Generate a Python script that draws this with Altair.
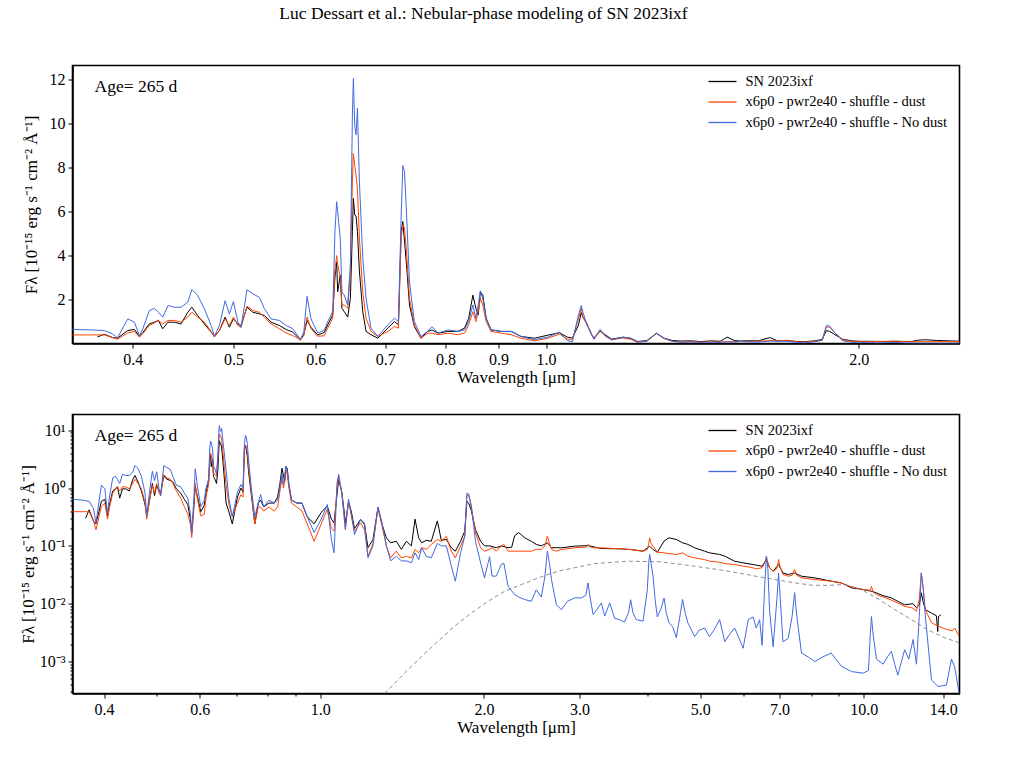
import altair as alt
import pandas as pd

FONT = "Liberation Serif"
SERIES = ["SN 2023ixf", "x6p0 - pwr2e40 - shuffle - dust", "x6p0 - pwr2e40 - shuffle - No dust"]
COLORS = ["#000000", "#ff4500", "#4169e1"]

# ---- observed spectrum (SN 2023ixf) ----
obs_wl = [0.370, 0.3755, 0.3826, 0.3866, 0.3956, 0.4015, 0.4059, 0.409, 0.415, 0.4197, 0.4234, 0.4275,
          0.4325, 0.4386, 0.4452, 0.4519, 0.456, 0.462, 0.4688, 0.4759, 0.4794, 0.4847, 0.4909, 0.4955,
          0.500, 0.505, 0.5085, 0.5153, 0.522, 0.5297, 0.5356, 0.5435, 0.5536, 0.562, 0.5703, 0.5767,
          0.580, 0.5844, 0.5887, 0.5938, 0.6026, 0.6115, 0.6163, 0.6231, 0.6262, 0.6286, 0.630, 0.6336,
          0.636, 0.6393, 0.6442, 0.648, 0.6509, 0.6523, 0.6543, 0.6562, 0.6582, 0.6611, 0.666, 0.6709,
          0.6783, 0.6887, 0.704, 0.7145, 0.7208, 0.7252, 0.7279, 0.7306, 0.7338, 0.7387, 0.7467, 0.7577,
          0.7689, 0.7765, 0.7868, 0.8043, 0.8224, 0.8346, 0.8423, 0.8501, 0.8558, 0.8603, 0.8644, 0.8691,
          0.8755, 0.8851, 0.905, 0.9253, 0.946, 0.9743, 1.004, 1.030, 1.048, 1.06, 1.074, 1.081, 1.085,
          1.093, 1.105, 1.112, 1.127, 1.14, 1.156, 1.186, 1.206, 1.224, 1.25, 1.277, 1.299, 1.323, 1.347,
          1.38, 1.41, 1.44, 1.471, 1.494, 1.517, 1.537, 1.567, 1.6, 1.642, 1.67, 1.706, 1.742, 1.772,
          1.812, 1.844, 1.861, 1.875, 1.896, 1.93, 1.972, 2.005, 2.049, 2.108, 2.153, 2.215, 2.25, 2.278,
          2.318, 2.377, 2.445, 2.497, 2.551, 2.617, 2.663, 2.719, 2.777, 2.938, 3.109, 3.289, 3.554, 3.725,
          3.925, 4.037, 4.095, 4.17, 4.291, 4.38, 4.519, 4.64, 4.745, 4.884, 5.095, 5.2, 5.43, 5.55, 5.786,
          5.997, 6.257, 6.5, 6.62, 6.71, 6.81, 6.97, 7.1, 7.26, 7.46, 7.68, 8.125, 8.71, 9.09, 9.49, 9.97,
          10.33, 10.55, 10.85, 11.24, 11.55, 11.89, 12.32, 12.5, 12.65, 12.76, 12.85, 12.98, 13.32, 13.6,
          13.68, 13.72, 13.86]
obs_flux = [0.30, 0.42, 0.27, 0.24, 0.59, 0.64, 0.33, 0.50, 0.89, 0.97, 1.05, 0.67,
            0.97, 0.97, 0.89, 1.42, 1.65, 1.27, 0.89, 0.52, 0.33, 0.59, 1.20, 0.74,
            1.12, 0.89, 0.82, 1.65, 1.42, 1.35, 1.27, 0.97, 0.82, 0.64, 0.52, 0.29,
            0.17, 0.40, 1.05, 0.74, 0.39, 0.50, 0.85, 1.30, 3.0, 3.7, 2.35, 3.1,
            1.6, 1.45, 1.2, 2.05, 5.1, 6.6, 5.85, 5.8, 5.1, 3.3, 1.45, 0.55,
            0.40, 0.24, 0.70, 1.0, 0.85, 5.1, 5.55, 4.65, 3.6, 1.75, 0.77, 0.24,
            0.55, 0.62, 0.47, 0.55, 0.55, 0.70, 1.15, 2.2, 1.6, 1.3, 2.35, 2.2,
            1.15, 0.62, 0.55, 0.55, 0.32, 0.24, 0.38, 0.49, 0.29, 0.25, 0.82, 1.41, 1.20,
            0.97, 0.44, 0.25, 0.56, 0.40, 0.20, 0.286, 0.235, 0.093, 0.129, 0.46, 0.235, 0.138, 0.113,
            0.12, 0.087, 0.12, 0.10, 0.29, 0.138, 0.113, 0.125, 0.12, 0.27, 0.125, 0.129, 0.093, 0.081,
            0.12, 0.18, 0.59, 0.55, 0.41, 0.19, 0.12, 0.10, 0.10, 0.093, 0.10, 0.093, 0.095, 0.15,
            0.17, 0.138, 0.12, 0.106, 0.10, 0.113, 0.093, 0.093, 0.0925, 0.099, 0.101, 0.09, 0.089, 0.0865,
            0.081, 0.099, 0.0865, 0.0778, 0.121, 0.138, 0.129, 0.113, 0.106, 0.0925, 0.081, 0.0758, 0.071, 0.0664, 0.0543,
            0.0508, 0.0476, 0.0445, 0.058, 0.0417, 0.0365, 0.0476, 0.034, 0.032, 0.034, 0.0299, 0.028, 0.0245, 0.0229, 0.0188, 0.0176,
            0.0164, 0.0154, 0.0138, 0.0126, 0.011, 0.0096, 0.010, 0.0085, 0.0095, 0.0154, 0.011, 0.0079, 0.0069, 0.0062,
            0.0033, 0.006, 0.0064]

# ---- model with dust ----
dust_wl = [0.349, 0.365, 0.3755, 0.3826, 0.3866, 0.3956, 0.4015, 0.4059, 0.409, 0.415, 0.4197, 0.4234,
           0.4275, 0.4325, 0.4386, 0.4452, 0.4519, 0.456, 0.462, 0.4688, 0.4759, 0.4794, 0.4847, 0.4909,
           0.4955, 0.500, 0.505, 0.5085, 0.5153, 0.522, 0.5297, 0.5356, 0.5435, 0.5536, 0.562, 0.5703,
           0.5767, 0.580, 0.5844, 0.5887, 0.5938, 0.6026, 0.6115, 0.6163, 0.6231, 0.6262, 0.6286, 0.630,
           0.6336, 0.636, 0.6393, 0.6442, 0.648, 0.6509, 0.6523, 0.6543, 0.6562, 0.6582, 0.6611, 0.666,
           0.6709, 0.6783, 0.6887, 0.704, 0.7145, 0.7208, 0.7252, 0.7279, 0.7306, 0.7338, 0.7387, 0.7467,
           0.7577, 0.7689, 0.7765, 0.7868, 0.8043, 0.8224, 0.8346, 0.8423, 0.8501, 0.8558, 0.8603, 0.8644,
           0.8691, 0.8755, 0.8851, 0.905, 0.9253, 0.946, 0.9743, 1.004, 1.030, 1.048, 1.06, 1.074, 1.081,
           1.085, 1.096, 1.112, 1.127, 1.14, 1.156, 1.186, 1.206, 1.224, 1.25, 1.277, 1.299, 1.323, 1.347,
           1.38, 1.41, 1.44, 1.471, 1.494, 1.517, 1.537, 1.567, 1.6, 1.642, 1.67, 1.706, 1.742, 1.772,
           1.812, 1.844, 1.861, 1.875, 1.896, 1.93, 1.972, 2.005, 2.049, 2.07, 2.108, 2.153, 2.177, 2.215,
           2.278, 2.377, 2.445, 2.497, 2.551, 2.59, 2.617, 2.64, 2.663, 2.719, 2.777, 2.938, 3.08, 3.109,
           3.14, 3.177, 3.289, 3.554, 3.725, 3.925, 3.997, 4.02, 4.037, 4.06, 4.095, 4.17, 4.291, 4.38,
           4.519, 4.64, 4.745, 4.884, 5.095, 5.2, 5.43, 5.55, 5.786, 5.997, 6.13, 6.257, 6.34, 6.5, 6.57,
           6.62, 6.66, 6.71, 6.81, 6.92, 6.97, 7.02, 7.1, 7.26, 7.38, 7.46, 7.53, 7.68, 8.125, 8.71, 9.09,
           9.49, 9.97, 10.28, 10.33, 10.4, 10.55, 10.85, 11.24, 11.55, 11.89, 12.32, 12.5, 12.65, 12.76,
           12.85, 12.98, 13.32, 13.7, 14.19, 14.55, 14.7, 14.99]
dust_flux = [0.39, 0.39, 0.39, 0.27, 0.19, 0.48, 0.55, 0.29, 0.44, 0.82, 0.94, 1.05,
             0.89, 1.05, 1.05, 0.97, 1.2, 1.42, 1.2, 0.97, 0.55, 0.29, 0.59, 1.12,
             0.82, 1.2, 0.82, 0.74, 1.7, 1.5, 1.42, 1.2, 0.89, 0.67, 0.48, 0.36,
             0.24, 0.14, 0.36, 1.2, 0.67, 0.33, 0.35, 0.70, 1.15, 3.3, 4.0, 3.6,
             3.0, 1.75, 1.75, 1.6, 3.3, 7.35, 8.65, 8.1, 7.65, 7.05, 4.8, 2.35,
             1.15, 0.55, 0.32, 0.55, 0.77, 0.70, 4.8, 5.4, 5.25, 4.2, 2.05, 0.85,
             0.24, 0.47, 0.47, 0.40, 0.47, 0.40, 0.47, 0.85, 1.45, 1.0, 1.45, 2.05,
             1.75, 1.0, 0.55, 0.47, 0.40, 0.24, 0.12, 0.24, 0.43, 0.20, 0.18, 1.12, 1.6,
             1.2, 0.83, 0.19, 0.60, 0.33, 0.18, 0.25, 0.19, 0.066, 0.11, 0.46, 0.22, 0.10, 0.062,
             0.081, 0.062, 0.066, 0.062, 0.087, 0.076, 0.093, 0.087, 0.106, 0.129, 0.12, 0.147, 0.081, 0.062,
             0.10, 0.147, 0.74, 0.75, 0.49, 0.168, 0.093, 0.081, 0.087, 0.093, 0.081, 0.10, 0.106, 0.081,
             0.081, 0.081, 0.081, 0.087, 0.087, 0.10, 0.147, 0.11, 0.087, 0.081, 0.0865, 0.0925, 0.095, 0.106,
             0.096, 0.0925, 0.0925, 0.089, 0.0865, 0.081, 0.0865, 0.11, 0.138, 0.11, 0.099, 0.0778, 0.0758, 0.0738,
             0.071, 0.0758, 0.0664, 0.062, 0.058, 0.0543, 0.0522, 0.0495, 0.0476, 0.0445, 0.0433, 0.0417, 0.040, 0.042, 0.05,
             0.066, 0.05, 0.0417, 0.0365, 0.04, 0.058, 0.042, 0.032, 0.0299, 0.031, 0.039, 0.031, 0.028, 0.0262, 0.0245, 0.0229,
             0.0195, 0.0176, 0.017, 0.020, 0.016, 0.0144, 0.0131, 0.0115, 0.0103, 0.009, 0.0084, 0.0074, 0.012, 0.034,
             0.02, 0.0079, 0.0047, 0.0041, 0.0036, 0.0034, 0.0038, 0.0027]

# ---- model without dust ----
nodust_wl = [0.349, 0.365, 0.3755, 0.3826, 0.3866, 0.3956, 0.4015, 0.4059, 0.409, 0.415, 0.4197, 0.4234,
             0.4275, 0.4325, 0.4386, 0.4452, 0.4519, 0.456, 0.462, 0.4688, 0.4759, 0.4794, 0.4847, 0.4909,
             0.4955, 0.500, 0.505, 0.5085, 0.5153, 0.522, 0.5297, 0.5356, 0.5435, 0.5536, 0.562, 0.5703,
             0.5767, 0.580, 0.5844, 0.5887, 0.5938, 0.6026, 0.6115, 0.6163, 0.6231, 0.6262, 0.6286, 0.630,
             0.6336, 0.636, 0.6393, 0.6442, 0.648, 0.6509, 0.6523, 0.6543, 0.6562, 0.6582, 0.6611, 0.666,
             0.6709, 0.6783, 0.6887, 0.704, 0.7145, 0.7208, 0.7252, 0.7279, 0.7306, 0.7338, 0.7387, 0.7467,
             0.7577, 0.7689, 0.7765, 0.7868, 0.8043, 0.8224, 0.8346, 0.8423, 0.8501, 0.8558, 0.8603, 0.8644,
             0.8691, 0.8755, 0.8851, 0.905, 0.9253, 0.946, 0.9743, 1.004, 1.030, 1.048, 1.06, 1.074, 1.081,
             1.085, 1.096, 1.112, 1.127, 1.14, 1.156, 1.186, 1.206, 1.224, 1.25, 1.277, 1.299, 1.323, 1.347,
             1.38, 1.41, 1.44, 1.471, 1.494, 1.517, 1.537, 1.567, 1.6, 1.642, 1.67, 1.706, 1.742, 1.772,
             1.812, 1.844, 1.861, 1.875, 1.896, 1.93, 1.972, 2.005, 2.049, 2.07, 2.108, 2.153, 2.177, 2.215,
             2.278, 2.318, 2.377, 2.445, 2.497, 2.551, 2.59, 2.617, 2.64, 2.663, 2.719, 2.777, 2.85, 2.938,
             3.022, 3.08, 3.109, 3.14, 3.177, 3.23, 3.289, 3.337, 3.408, 3.48, 3.554, 3.628, 3.69, 3.725,
             3.76, 3.813, 3.925, 3.997, 4.02, 4.037, 4.06, 4.095, 4.13, 4.17, 4.23, 4.291, 4.33, 4.38, 4.45,
             4.519, 4.6, 4.64, 4.69, 4.745, 4.884, 4.98, 5.095, 5.2, 5.3, 5.43, 5.55, 5.67, 5.786, 5.9, 5.997,
             6.13, 6.257, 6.34, 6.432, 6.5, 6.57, 6.62, 6.66, 6.71, 6.81, 6.92, 6.97, 7.02, 7.1, 7.26, 7.38,
             7.46, 7.53, 7.68, 7.9, 8.125, 8.4, 8.71, 9.09, 9.49, 9.97, 10.2, 10.28, 10.33, 10.4, 10.55, 10.85,
             11.05, 11.24, 11.4, 11.55, 11.89, 12.1, 12.32, 12.5, 12.65, 12.76, 12.85, 12.98, 13.32, 13.7,
             14.19, 14.5, 14.7, 14.99]
nodust_flux = [0.64, 0.62, 0.59, 0.44, 0.25, 1.12, 0.97, 0.36, 0.67, 1.5, 1.6, 1.42,
               1.2, 1.73, 1.65, 1.65, 1.88, 2.45, 2.18, 1.58, 0.82, 0.33, 0.82, 1.95,
               1.35, 1.91, 0.97, 0.74, 2.45, 2.26, 2.1, 1.58, 1.12, 1.05, 0.82, 0.67,
               0.36, 0.17, 0.52, 2.15, 1.12, 0.48, 0.60, 1.0, 1.45, 5.1, 6.45, 6.0,
               4.8, 2.35, 2.2, 1.75, 3.6, 10.4, 12.06, 9.9, 9.5, 10.7, 7.35, 3.9,
               2.05, 0.70, 0.32, 0.85, 1.15, 1.0, 5.85, 8.1, 7.8, 6.0, 2.8, 1.0,
               0.32, 0.55, 0.77, 0.47, 0.62, 0.55, 0.62, 1.0, 1.75, 1.15, 1.75, 2.4,
               2.05, 1.15, 0.62, 0.55, 0.55, 0.32, 0.17, 0.29, 0.52, 0.13, 0.076, 1.27, 1.73,
               1.42, 0.78, 0.20, 0.64, 0.37, 0.157, 0.286, 0.25, 0.062, 0.10, 0.47, 0.25, 0.10, 0.055,
               0.066, 0.055, 0.055, 0.051, 0.076, 0.058, 0.093, 0.066, 0.062, 0.11, 0.10, 0.10, 0.045, 0.0245,
               0.076, 0.147, 0.82, 0.79, 0.49, 0.12, 0.051, 0.028, 0.065, 0.030, 0.030, 0.048, 0.050, 0.020,
               0.0144, 0.013, 0.0118, 0.011, 0.0174, 0.013, 0.03, 0.081, 0.05, 0.026, 0.0096, 0.0079, 0.011, 0.0126,
               0.0126, 0.014, 0.0229, 0.012, 0.0065, 0.008, 0.0103, 0.0061, 0.0103, 0.0056, 0.0053, 0.0048, 0.007, 0.0117,
               0.007, 0.0053, 0.0050, 0.0175, 0.05, 0.071, 0.05, 0.030, 0.012, 0.0059, 0.008, 0.0125, 0.007, 0.0047, 0.004,
               0.0026, 0.007, 0.0119, 0.007, 0.0047, 0.0027, 0.0035, 0.0038, 0.0027, 0.0035, 0.0053, 0.0022, 0.003, 0.0038, 0.0025, 0.0017,
               0.0053, 0.0059, 0.0038, 0.0053, 0.0019, 0.02, 0.066, 0.04, 0.0075, 0.0018, 0.012, 0.034, 0.012, 0.0022, 0.0025, 0.006,
               0.0155, 0.006, 0.0014, 0.0012, 0.0010, 0.0012, 0.0014, 0.00083, 0.00067, 0.00063, 0.0007, 0.003, 0.006, 0.003, 0.0011, 0.0009,
               0.0012, 0.0015, 0.0009, 0.00058, 0.0016, 0.0011, 0.0024, 0.0009, 0.006, 0.034, 0.02, 0.0061, 0.00048, 0.00037,
               0.00039, 0.0011, 0.0008, 0.00027]

# ---- dust emission component (dashed grey) ----
bb_wl = [1.313, 1.429, 1.535, 1.646, 1.767, 1.896, 2.035, 2.184, 2.344, 2.516, 2.737, 3.2, 3.68, 4.24,
         4.884, 5.63, 6.48, 7.46, 8.01, 8.6, 9.22, 9.9, 10.62, 11.4, 12.24, 13.13, 14.06, 14.99]
bb_flux = [0.00028, 0.00063, 0.00122, 0.00223, 0.0041, 0.0069, 0.011, 0.0164, 0.0214, 0.0279, 0.0365, 0.0495,
           0.0543, 0.053, 0.0445, 0.0366, 0.0287, 0.023, 0.0209, 0.0207, 0.0215, 0.0176, 0.0121, 0.0079,
           0.0053, 0.0035, 0.0026, 0.0021]

top_xticks = [0.4, 0.5, 0.6, 0.7, 0.8, 0.9, 1.0, 2.0]
bot_xticks = [0.4, 0.6, 1.0, 2.0, 3.0, 5.0, 7.0, 10.0, 14.0]
bot_xminor = [0.5, 0.7, 0.8, 0.9, 4.0, 6.0, 8.0, 9.0]
top_yticks = [2, 4, 6, 8, 10, 12]
bot_yticks = [0.001, 0.01, 0.1, 1, 10]
bot_yminor = [0.0003, 0.0004, 0.0005, 0.0006, 0.0007, 0.0008, 0.0009,
              0.002, 0.003, 0.004, 0.005, 0.006, 0.007, 0.008, 0.009,
              0.02, 0.03, 0.04, 0.05, 0.06, 0.07, 0.08, 0.09,
              0.2, 0.3, 0.4, 0.5, 0.6, 0.7, 0.8, 0.9,
              2, 3, 4, 5, 6, 7, 8, 9]

spec = pd.concat([
    pd.DataFrame({"wl": obs_wl, "flux": obs_flux, "series": SERIES[0]}),
    pd.DataFrame({"wl": dust_wl, "flux": dust_flux, "series": SERIES[1]}),
    pd.DataFrame({"wl": nodust_wl, "flux": nodust_flux, "series": SERIES[2]}),
], ignore_index=True)
top_spec = spec[spec["wl"] <= 2.62]
bb = pd.DataFrame({"wl": bb_wl, "flux": bb_flux})
age = pd.DataFrame({"t": ["Age= 265 d"]})

YTITLE = "F\u03bb [10\u207b\u00b9\u2075 erg s\u207b\u00b9 cm\u207b\u00b2 \u00c5\u207b\u00b9]"
W = 887


def legend():
    return alt.Legend(title=None, orient="none", legendX=642, legendY=8,
                      symbolType="M-2,0H2", symbolSize=196, symbolStrokeWidth=1.3,
                      labelFont=FONT, labelFontSize=14.5, labelOffset=15, rowPadding=5.5,
                      padding=0, labelLimit=400)


def color():
    return alt.Color("series:N", scale=alt.Scale(domain=SERIES, range=COLORS),
                     sort=SERIES, legend=legend())


def age_text():
    return alt.Chart(age).mark_text(font=FONT, fontSize=17.5, align="left", baseline="alphabetic").encode(
        text="t:N", x=alt.value(22), y=alt.value(26))


# ---- top panel (linear flux) ----
top_lines = alt.Chart(top_spec).mark_line(clip=True, strokeWidth=1).encode(
    x=alt.X("wl:Q", scale=alt.Scale(type="log", domain=[0.35, 2.5], nice=False),
            axis=alt.Axis(values=top_xticks, format=".1f", title="Wavelength [\u03bcm]",
                          titlePadding=2)),
    y=alt.Y("flux:Q", scale=alt.Scale(domain=[0, 12.65], nice=False, zero=False),
            axis=alt.Axis(values=top_yticks, format="d", title=YTITLE,
                          titleX=-41, titleY=139, titleAngle=270, titleAlign="center",
                          titleBaseline="middle")),
    color=color(),
)
top = alt.layer(top_lines, age_text()).properties(width=W, height=278)

# ---- bottom panel (log flux) ----
xs_bot = alt.Scale(type="log", domain=[0.35, 15], nice=False)
ys_bot = alt.Scale(type="log", domain=[0.00028, 18.7], nice=False)
bot_lines = alt.Chart(spec).mark_line(clip=True, strokeWidth=1).encode(
    x=alt.X("wl:Q", scale=xs_bot,
            axis=alt.Axis(values=bot_xticks, format=".1f", title="Wavelength [\u03bcm]",
                          titlePadding=2, orient="bottom")),
    y=alt.Y("flux:Q", scale=ys_bot,
            axis=alt.Axis(values=bot_yticks, orient="left", title=YTITLE, labelFontSize=16,
                          labelExpr="datum.value >= 5 ? '10\u00b9' : datum.value >= 0.5 ? '10\u2070' : "
                                    "datum.value >= 0.05 ? '10\u207b\u00b9' : datum.value >= 0.005 ? "
                                    "'10\u207b\u00b2' : '10\u207b\u00b3'",
                          titleX=-44, titleY=139.5, titleAngle=270, titleAlign="center",
                          titleBaseline="middle")),
    color=color(),
)
bot_bb = alt.Chart(bb).mark_line(clip=True, strokeWidth=0.9, color="#808080", strokeDash=[4, 3]).encode(
    x=alt.X("wl:Q", scale=xs_bot,
            axis=alt.Axis(values=bot_xminor, labels=False, domain=False, title=None,
                          tickSize=2.5, orient="bottom")),
    y=alt.Y("flux:Q", scale=ys_bot,
            axis=alt.Axis(values=bot_yminor, labels=False, domain=False, title=None,
                          tickSize=2.5, orient="left")),
)
bottom = alt.layer(bot_lines, bot_bb, age_text()).resolve_axis(
    x="independent", y="independent").properties(width=W, height=279)

chart = alt.vconcat(top, bottom, spacing=71, bounds="flush").resolve_legend(
    color="independent"
).properties(
    title=alt.Title("Luc Dessart et al.: Nebular-phase modeling of SN 2023ixf", font=FONT,
                    fontSize=17.5, fontWeight="normal", anchor="middle", dx=-6, offset=42,
                    color="black"),
    padding={"left": 18.5, "top": 4.5, "right": 48, "bottom": 30},
).configure_view(stroke="black", strokeWidth=1.6).configure_axis(
    labelFont=FONT, labelFontSize=16, labelColor="black", titleFont=FONT, titleFontSize=17,
    titleFontWeight="normal", titleColor="black", tickColor="black", domainColor="black",
    domainWidth=1.6, tickSize=4.5, grid=False, labelPadding=3,
).configure_legend(labelColor="black")

chart.save("out.html", embed_options={"renderer": "svg", "actions": False})
